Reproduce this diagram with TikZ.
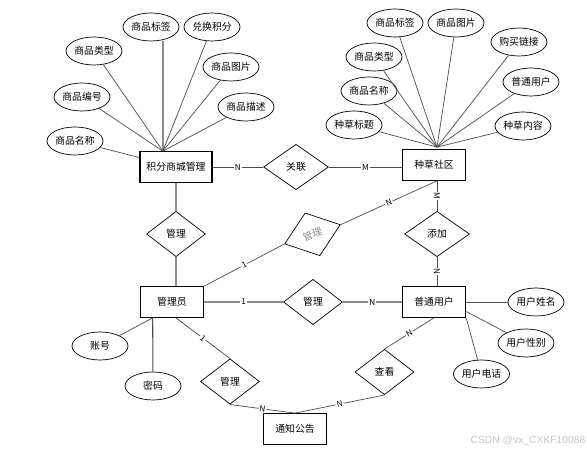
\documentclass[tikz,border=0pt]{standalone}
\usepackage{fontspec}
\setmainfont{Noto Sans CJK SC}
\newfontfamily\wmfont{Liberation Sans}
\usetikzlibrary{calc,shapes.geometric}
\definecolor{lngrey}{gray}{0.3}
\definecolor{thgrey}{gray}{0.55}
\tikzset{
  fig/.style={font=\fontsize{8.4}{10}\selectfont},
  entbox/.style={draw,line width=0.9pt,minimum width=19mm,minimum height=9.2mm,
                 align=center,inner sep=1pt},
  attr/.style={ellipse,draw,line width=0.6pt,minimum width=16.8mm,minimum height=8.4mm,
               inner sep=0pt},
  relbox/.style={diamond,draw,line width=0.6pt,minimum width=17.7mm,minimum height=13.6mm,
                 inner sep=0pt},
  ln/.style={draw=lngrey,line width=0.6pt},
  lnt/.style={draw=thgrey,line width=1.2pt},
  lbl/.style={font=\fontsize{7}{8}\selectfont,fill=white,inner sep=0.8pt},
}

\begin{document}
\begin{tikzpicture}[fig,x=0.3mm,y=-0.3mm]
\useasboundingbox (0,0) rectangle (587,450);

% =======================  TOP LEFT: points shop  =====================
\node[entbox,minimum width=21.6mm] (shop) at (176,167) {积分商城管理};
\node[attr] (sTag)  at (151,27)  {商品标签};
\node[attr] (sPts)  at (212,27)  {兑换积分};
\node[attr] (sType) at (94,51)   {商品类型};
\node[attr] (sPic)  at (231,67)  {商品图片};
\node[attr] (sNo)   at (82,97)   {商品编号};
\node[attr] (sDesc) at (246,107) {商品描述};
\node[attr] (sName) at (75,141)  {商品名称};
\coordinate (sp) at ($(shop.north west)!0.32!(shop.north east)$);
\draw[lnt] (sp) -- (sp |- sTag.south);
\foreach \a in {sPts,sType,sPic,sNo,sDesc} \draw[ln] (\a) -- (sp);
\draw[ln] (sName) -- (shop);

% =======================  TOP RIGHT: community  ======================
\node[entbox] (cmty) at (434,165) {种草社区};
\node[attr] (cTag)   at (395,23)  {商品标签};
\node[attr] (cPic)   at (456,23)  {商品图片};
\node[attr] (cLink)  at (519,42)  {购买链接};
\node[attr] (cType)  at (374,57)  {商品类型};
\node[attr] (cUser)  at (531,82)  {普通用户};
\node[attr] (cName)  at (369,91)  {商品名称};
\node[attr] (cTitle) at (354,125) {种草标题};
\node[attr] (cText)  at (523,126) {种草内容};
\coordinate (cp) at ($(cmty.north)+(3,-2)$);
\foreach \a in {cTag,cPic,cLink,cType,cUser,cName,cTitle,cText} \draw[ln] (\a) -- (cp);

\node[relbox,minimum width=19.5mm] (rel) at (296,167) {关联};
\draw[ln] (shop.east) -- (rel.west) node[lbl,midway]{N};
\draw[ln] (rel.east) -- (rel.east -| cmty.west) node[lbl,midway]{M};

% =======================  MIDDLE: admin and user  ====================
\node[relbox] (mgA) at (176,234) {管理};
\node[entbox] (admin) at (172,302) {管理员};
\node[relbox] (mgB) at (313,302) {管理};
\node[entbox] (user) at (434,302) {普通用户};
\node[relbox,minimum width=19.5mm] (add) at (437,234) {添加};
\node[relbox,rotate=19,text=thgrey] (mgC) at (312.5,234.3) {管理};

\draw[lnt] (shop) -- (mgA) -- (mgA |- admin.north);
\draw[lnt] (admin) -- (mgB) node[lbl,midway]{1} -- (user) node[lbl,midway]{N};
\draw[ln] (cmty.south -| add) -- (add) node[lbl,midway,sloped]{M};
\draw[ln] (add) -- (add |- user.north) node[lbl,midway,sloped]{N};
\draw[ln] (admin.north east) -- (mgC.west) node[lbl,midway,sloped]{1};
\draw[ln] (mgC.east) -- (cmty.south -| add) node[lbl,midway,sloped]{N};

% =======================  BOTTOM: notices  ===========================
\coordinate (ab) at ($(admin.south west)!0.2!(admin.south east)$);
\node[attr] (acc) at (100,346) {账号};
\node[attr] (pwd) at (153,386) {密码};
\draw[ln] (ab) -- (acc);
\draw[ln,line width=0.9pt] (ab) -- (pwd);

\node[relbox] (mgD) at (230,381.5) {管理};
\node[entbox] (notice) at (295,429) {通知公告};
\node[relbox] (view) at (384.5,372) {查看};
\draw[ln] ($(admin.south)!0.12!(admin.south east)$) -- (mgD.north) node[lbl,midway,sloped]{1};
\draw[ln] (mgD.south) -- (notice.north) node[lbl,midway,sloped]{N};
\draw[ln] (notice.north) -- (view.south) node[lbl,midway,sloped]{N};
\draw[ln] (view.north) -- (user.south) node[lbl,midway,sloped]{N};

\node[attr] (uName) at (536,302)   {用户姓名};
\node[attr] (uSex)  at (526,343)   {用户性别};
\node[attr] (uTel)  at (481.5,374) {用户电话};
\draw[ln] (user.east) -- (uName);
\draw[ln] ($(user.east)!0.6!(user.south east)$) -- (uSex);
\draw[ln] (user.south east) -- (uTel);

\node[font=\wmfont\fontsize{8.8}{10}\selectfont,text=gray!45] (wm) at (528,441) {CSDN @vx\_CXKF10088};
\end{tikzpicture}
\end{document}
